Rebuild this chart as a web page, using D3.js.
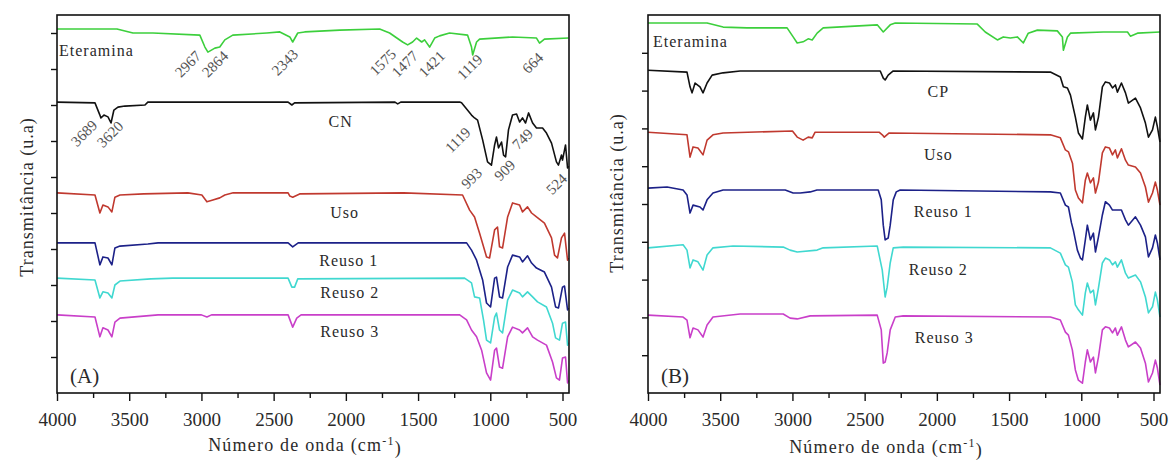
<!DOCTYPE html>
<html>
<head>
<meta charset="utf-8">
<script src="https://cdn.jsdelivr.net/npm/d3@7"></script>
<style>
  body { margin: 0; background: #fff; }
  text { font-family: "Liberation Serif", "DejaVu Serif", serif; fill: #2a2a2a; }
</style>
</head>
<body>
<div id="chart"></div>
<script>
// x ticks (cm-1), shared by both panels
var wnMajor = [4000, 3500, 3000, 2500, 2000, 1500, 1000, 500];
var wnMinor = [3750, 3250, 2750, 2250, 1750, 1250, 750];

// panel (A) spectra: [wavenumber, transmittance (u.a, offset)]
var aEteramina = [[4000,10.11],[3585,10.11],[3474,10.0],[3336,10.0],[3011,9.94],[2976,9.61],[2955,9.47],[2907,9.58],[2873,9.61],[2838,9.81],[2783,9.94],[2547,10.0],[2457,10.03],[2388,9.89],[2368,9.75],[2333,10.0],[2285,10.03],[2042,10.08],[1766,10.11],[1697,10.0],[1607,9.75],[1572,9.67],[1538,9.75],[1510,9.86],[1475,9.75],[1455,9.81],[1420,9.61],[1385,9.86],[1351,9.92],[1282,10.0],[1157,9.94],[1130,9.61],[1122,9.39],[1095,9.75],[1074,9.83],[846,9.89],[680,9.86],[659,9.72],[625,9.83],[458,9.86]];
var aCN = [[4000,8.08],[3737,8.06],[3703,7.72],[3696,7.64],[3675,7.72],[3647,7.67],[3626,7.5],[3606,7.86],[3578,7.94],[3530,7.97],[3391,8.0],[3371,8.08],[2400,8.08],[2374,8.0],[2355,8.06],[1660,8.08],[1641,8.03],[1620,8.08],[1212,8.08],[1199,8.06],[1130,7.72],[1109,7.64],[1088,7.58],[1053,7.03],[1019,6.42],[992,6.33],[970,6.89],[957,7.11],[943,6.81],[922,6.97],[908,6.61],[894,6.56],[874,7.31],[846,7.72],[818,7.75],[797,7.53],[777,7.64],[756,7.5],[735,7.78],[707,7.5],[680,7.36],[638,7.36],[611,7.22],[576,6.94],[542,6.42],[528,6.33],[507,6.61],[500,6.47],[479,6.89],[465,6.25],[458,6.3]];
var aUso = [[4000,5.56],[3737,5.5],[3703,5.0],[3682,5.22],[3647,5.17],[3620,5.03],[3599,5.44],[3564,5.5],[3400,5.53],[3094,5.56],[2997,5.5],[2962,5.31],[2921,5.36],[2873,5.42],[2838,5.5],[2780,5.56],[2400,5.56],[2388,5.47],[2368,5.44],[2320,5.53],[1600,5.56],[1192,5.5],[1143,5.08],[1109,4.89],[1074,4.44],[1026,3.78],[1005,3.75],[970,4.53],[950,4.61],[936,4.06],[915,4.03],[880,4.89],[846,5.28],[797,5.22],[777,5.03],[742,5.17],[714,5.0],[680,4.89],[625,4.72],[576,4.31],[555,3.83],[535,3.75],[507,4.31],[486,4.44],[465,3.69],[458,3.75]];
var aReuso1 = [[4000,4.17],[3850,4.17],[3737,4.17],[3703,3.56],[3682,3.78],[3647,3.75],[3620,3.56],[3599,4.03],[3564,4.08],[3371,4.14],[3300,4.17],[2400,4.17],[2368,4.06],[2330,4.17],[1192,4.17],[1164,4.17],[1130,3.97],[1095,3.69],[1053,3.14],[1026,2.5],[998,2.39],[970,3.19],[957,3.22],[936,2.67],[915,2.64],[880,3.5],[846,3.83],[797,3.78],[777,3.64],[742,3.81],[714,3.61],[680,3.47],[625,3.36],[576,2.94],[548,2.39],[528,2.36],[500,2.94],[486,2.97],[465,2.31],[458,2.36]];
var aReuso2 = [[4000,3.19],[3737,3.14],[3703,2.64],[3682,2.81],[3647,2.78],[3620,2.64],[3599,3.0],[3564,3.11],[3350,3.17],[3200,3.19],[2400,3.19],[2374,2.94],[2355,2.94],[2333,3.17],[1178,3.19],[1130,3.06],[1109,2.67],[1074,2.64],[1047,2.03],[1026,1.47],[998,1.39],[970,2.11],[957,2.22],[936,1.75],[915,1.67],[880,2.58],[846,2.86],[797,2.78],[777,2.67],[742,2.81],[707,2.67],[673,2.53],[611,2.39],[569,1.94],[548,1.53],[521,1.47],[500,1.94],[479,1.97],[465,1.33],[458,1.4]];
var aReuso3 = [[4000,2.17],[3737,2.11],[3703,1.56],[3682,1.81],[3647,1.75],[3620,1.56],[3599,1.97],[3564,2.08],[3300,2.17],[3000,2.17],[2962,2.11],[2930,2.17],[2400,2.17],[2368,1.83],[2340,2.08],[2310,2.17],[1212,2.17],[1164,2.03],[1130,1.75],[1095,1.56],[1060,1.19],[1026,0.56],[998,0.36],[970,1.19],[957,1.25],[936,0.72],[915,0.69],[880,1.56],[846,1.83],[797,1.75],[777,1.67],[742,1.81],[707,1.56],[673,1.47],[611,1.33],[569,0.86],[542,0.42],[521,0.36],[500,0.97],[479,1.0],[465,0.28],[458,0.35]];

// panel (B) spectra
var bEteramina = [[4000,9.79],[3591,9.79],[3480,9.68],[3314,9.66],[3037,9.66],[2995,9.42],[2967,9.26],[2926,9.29],[2891,9.37],[2863,9.34],[2829,9.52],[2787,9.66],[2413,9.74],[2371,9.55],[2323,9.74],[2288,9.79],[1720,9.76],[1665,9.55],[1581,9.34],[1540,9.42],[1491,9.39],[1443,9.42],[1401,9.26],[1367,9.52],[1304,9.6],[1166,9.58],[1131,9.42],[1124,9.07],[1096,9.42],[1075,9.52],[847,9.55],[680,9.55],[660,9.44],[611,9.52],[455,9.55]];
var bCP = [[4000,8.54],[3730,8.49],[3709,8.1],[3695,7.94],[3674,8.2],[3640,8.1],[3619,7.94],[3591,8.2],[3556,8.41],[3480,8.47],[3362,8.52],[2392,8.52],[2371,8.33],[2358,8.28],[2337,8.41],[2302,8.52],[1214,8.49],[1145,8.36],[1124,8.1],[1096,8.07],[1075,7.88],[1041,7.3],[1020,6.88],[992,6.72],[972,7.3],[958,7.62],[937,7.22],[916,7.41],[902,6.96],[881,7.3],[854,8.1],[833,8.23],[805,8.2],[784,8.07],[764,8.15],[750,7.96],[722,8.2],[694,7.94],[674,7.67],[625,7.8],[590,7.54],[556,7.14],[535,6.77],[507,6.96],[487,7.3],[473,7.04],[455,6.64]];
var bUso = [[4000,6.9],[3730,6.83],[3709,6.24],[3688,6.51],[3654,6.48],[3619,6.3],[3591,6.69],[3550,6.83],[3480,6.88],[3000,6.93],[2967,6.77],[2926,6.69],[2891,6.77],[2863,6.75],[2843,6.9],[2400,6.9],[2378,6.83],[2364,6.77],[2330,6.88],[1214,6.83],[1145,6.75],[1110,6.43],[1089,6.38],[1061,6.08],[1041,5.37],[1020,5.16],[992,5.03],[972,5.63],[958,5.82],[937,5.56],[916,5.69],[902,5.29],[881,5.58],[854,6.35],[833,6.51],[805,6.48],[784,6.3],[764,6.43],[750,6.22],[722,6.46],[694,6.16],[674,6.03],[625,5.98],[590,5.82],[556,5.45],[535,5.05],[507,5.29],[487,5.58],[473,5.37],[455,4.97]];
var bReuso1 = [[4000,5.42],[3868,5.45],[3757,5.37],[3730,5.24],[3709,4.76],[3688,4.97],[3640,4.92],[3619,4.84],[3591,5.11],[3550,5.29],[3480,5.37],[3050,5.37],[2995,5.29],[2946,5.29],[2877,5.32],[2830,5.37],[2406,5.37],[2385,5.11],[2371,4.44],[2358,4.05],[2337,4.1],[2323,4.44],[2302,5.11],[2281,5.32],[2254,5.37],[1214,5.32],[1145,5.29],[1110,4.97],[1089,4.92],[1068,4.5],[1055,4.31],[1027,3.78],[1006,3.57],[992,3.52],[972,4.05],[958,4.44],[937,4.05],[916,4.23],[902,3.73],[881,4.13],[854,4.71],[833,5.06],[805,4.97],[784,4.84],[764,4.84],[750,4.84],[722,4.84],[694,4.58],[674,4.44],[625,4.66],[590,4.44],[556,4.13],[535,3.6],[507,3.84],[487,4.18],[473,3.97],[455,3.52]];
var bReuso2 = [[4000,3.84],[3757,3.92],[3730,3.78],[3709,3.31],[3688,3.52],[3654,3.47],[3619,3.25],[3591,3.65],[3550,3.84],[3411,3.89],[3064,3.86],[3016,3.78],[2967,3.73],[2829,3.78],[2787,3.84],[2413,3.89],[2378,3.25],[2358,2.54],[2344,2.8],[2323,3.44],[2302,3.84],[2233,3.86],[1214,3.84],[1145,3.7],[1110,3.39],[1089,3.33],[1062,2.94],[1041,2.33],[1020,2.2],[992,2.06],[972,2.65],[958,2.91],[937,2.65],[916,2.72],[902,2.33],[881,2.78],[854,3.44],[833,3.57],[805,3.52],[784,3.39],[764,3.47],[750,3.33],[722,3.52],[694,3.17],[674,3.04],[625,3.12],[590,2.94],[556,2.54],[535,2.12],[507,2.28],[487,2.67],[473,2.46],[455,2.01]];
var bReuso3 = [[4000,2.06],[3757,2.01],[3730,1.93],[3709,1.46],[3688,1.72],[3654,1.67],[3619,1.48],[3591,1.8],[3550,2.01],[3362,2.09],[3064,2.09],[3016,1.98],[2967,1.96],[2877,2.04],[2413,2.06],[2385,1.67],[2371,0.79],[2358,0.82],[2344,1.06],[2323,1.67],[2288,2.01],[2233,2.04],[1214,2.01],[1145,1.93],[1110,1.61],[1089,1.53],[1062,1.14],[1041,0.61],[1020,0.34],[992,0.26],[972,0.82],[958,1.14],[937,0.82],[916,0.95],[902,0.53],[881,0.95],[854,1.67],[833,1.75],[805,1.72],[784,1.59],[764,1.72],[750,1.53],[722,1.75],[694,1.4],[674,1.22],[625,1.35],[590,1.19],[556,0.79],[535,0.29],[507,0.53],[487,0.87],[473,0.66],[455,0.21]];

var colours = ["#3ccf3c", "#111111", "#c0392f", "#1c2188", "#40d8d0", "#c93fc9"];

// series names: [text, wavenumber, u.a]
var aNames = [["Eteramina", 3986, 9.36, "start"], ["CN", 2036, 7.39], ["Uso", 2008, 4.86], ["Reuso 1", 1980, 3.53], ["Reuso 2", 1973, 2.64], ["Reuso 3", 1973, 1.56]];
var bNames = [["Eteramina", 3965, 9.15, "start"], ["CP", 1990, 7.83], ["Uso", 1990, 6.16], ["Reuso 1", 1956, 4.66], ["Reuso 2", 1990, 3.12], ["Reuso 3", 1949, 1.32]];

// peak labels for panel (A): [text, wavenumber, u.a]
var aPeaks = [["2967", 3094, 9.14], ["2864", 2907, 9.14], ["2343", 2423, 9.19], ["1575", 1745, 9.19], ["1477", 1593, 9.14], ["1421", 1406, 9.14], ["1119", 1143, 9.06], ["664", 707, 9.17],
  ["3689", 3813, 7.22], ["3620", 3633, 7.19], ["1119", 1226, 7.03], ["993", 1130, 5.97], ["909", 901, 6.19], ["749", 777, 7.06], ["524", 542, 5.81]];

var W = 1170, H = 462;
var svg = d3.select("#chart").append("svg")
  .attr("width", W).attr("height", H)
  .style("background", "#fff");

function drawPanel(left, top, width, height, yMax, yTicks, spectra, names, peaks, tag) {
  var g = svg.append("g").attr("transform", "translate(" + left + "," + top + ")");

  var x = d3.scaleLinear().domain([4000, 455]).range([0, width]);
  var y = d3.scaleLinear().domain([0, yMax]).range([height, 0]);

  var line = d3.line()
    .x(function(d) { return x(d[0]); })
    .y(function(d) { return y(d[1]); });

  g.selectAll("path.spec")
    .data(spectra)
    .enter().append("path")
    .attr("class", "spec")
    .attr("d", line)
    .attr("fill", "none")
    .attr("stroke", function(d, i) { return colours[i]; })
    .attr("stroke-width", 1.6)
    .attr("stroke-linejoin", "round");

  // bottom axis: majors labelled, minors shorter
  var xAxis = d3.axisBottom(x)
    .tickValues(wnMajor)
    .tickSize(8)
    .tickSizeOuter(0)
    .tickPadding(12)
    .tickFormat(d3.format("d"));
  var gx = g.append("g")
    .attr("transform", "translate(0," + height + ")")
    .call(xAxis);
  gx.select(".domain").remove();
  gx.selectAll("line").attr("stroke", "#111").attr("stroke-width", 1.4);
  gx.selectAll("text")
    .style("font-family", "Liberation Serif")
    .style("font-size", "19px")
    .attr("fill", "#2a2a2a");

  var gm = g.append("g")
    .attr("transform", "translate(0," + height + ")")
    .call(d3.axisBottom(x).tickValues(wnMinor).tickSize(5).tickSizeOuter(0).tickFormat(""));
  gm.select(".domain").remove();
  gm.selectAll("line").attr("stroke", "#111").attr("stroke-width", 1.4);

  var gy = g.append("g")
    .call(d3.axisLeft(y).tickValues(yTicks).tickSize(6).tickSizeOuter(0).tickFormat(""));
  gy.select(".domain").remove();
  gy.selectAll("line").attr("stroke", "#111").attr("stroke-width", 1.4);

  // frame
  g.append("rect")
    .attr("width", width).attr("height", height)
    .attr("fill", "none")
    .attr("stroke", "#111")
    .attr("stroke-width", 1.6);

  g.selectAll("text.name")
    .data(names)
    .enter().append("text")
    .attr("class", "name")
    .attr("x", function(d) { return x(d[1]); })
    .attr("y", function(d) { return y(d[2]); })
    .attr("text-anchor", function(d) { return d[3] || "middle"; })
    .style("font-size", "16px")
    .style("letter-spacing", "1px")
    .text(function(d) { return d[0]; });

  g.selectAll("text.peak")
    .data(peaks)
    .enter().append("text")
    .attr("class", "peak")
    .attr("transform", function(d) {
      return "translate(" + x(d[1]) + "," + y(d[2]) + ") rotate(-45)";
    })
    .attr("text-anchor", "middle")
    .attr("dy", "0.35em")
    .style("font-size", "15px")
    .style("fill", "#555")
    .text(function(d) { return d[0]; });

  g.append("text")
    .attr("x", x(3910))
    .attr("y", y(0.27))
    .style("font-size", "21px")
    .text(tag);

  return g;
}

drawPanel(57, 15, 512, 378, 10.5, [1,2,3,4,5,6,7,8,9,10],
  [aEteramina, aCN, aUso, aReuso1, aReuso2, aReuso3], aNames, aPeaks, "(A)");
drawPanel(648, 15, 512, 378, 10, [1,2,3,4,5,6,7,8,9],
  [bEteramina, bCP, bUso, bReuso1, bReuso2, bReuso3], bNames, [], "(B)");

// axis titles
[[33, 197], [623, 193]].forEach(function(p) {
  svg.append("text")
    .attr("transform", "translate(" + p[0] + "," + p[1] + ") rotate(-90)")
    .attr("text-anchor", "middle")
    .style("font-size", "18px")
    .style("letter-spacing", "1px")
    .text("Transmitância (u.a)");
});

[[305, 451], [886, 453]].forEach(function(p) {
  var t = svg.append("text")
    .attr("x", p[0]).attr("y", p[1])
    .attr("text-anchor", "middle")
    .style("font-size", "18px")
    .style("letter-spacing", "1.2px");
  t.append("tspan").text("Número de onda (cm");
  t.append("tspan").attr("dy", "-0.5em").style("font-size", "12px").text("-1");
  t.append("tspan").attr("dy", "0.5em").text(")");
});
</script>
</body>
</html>
